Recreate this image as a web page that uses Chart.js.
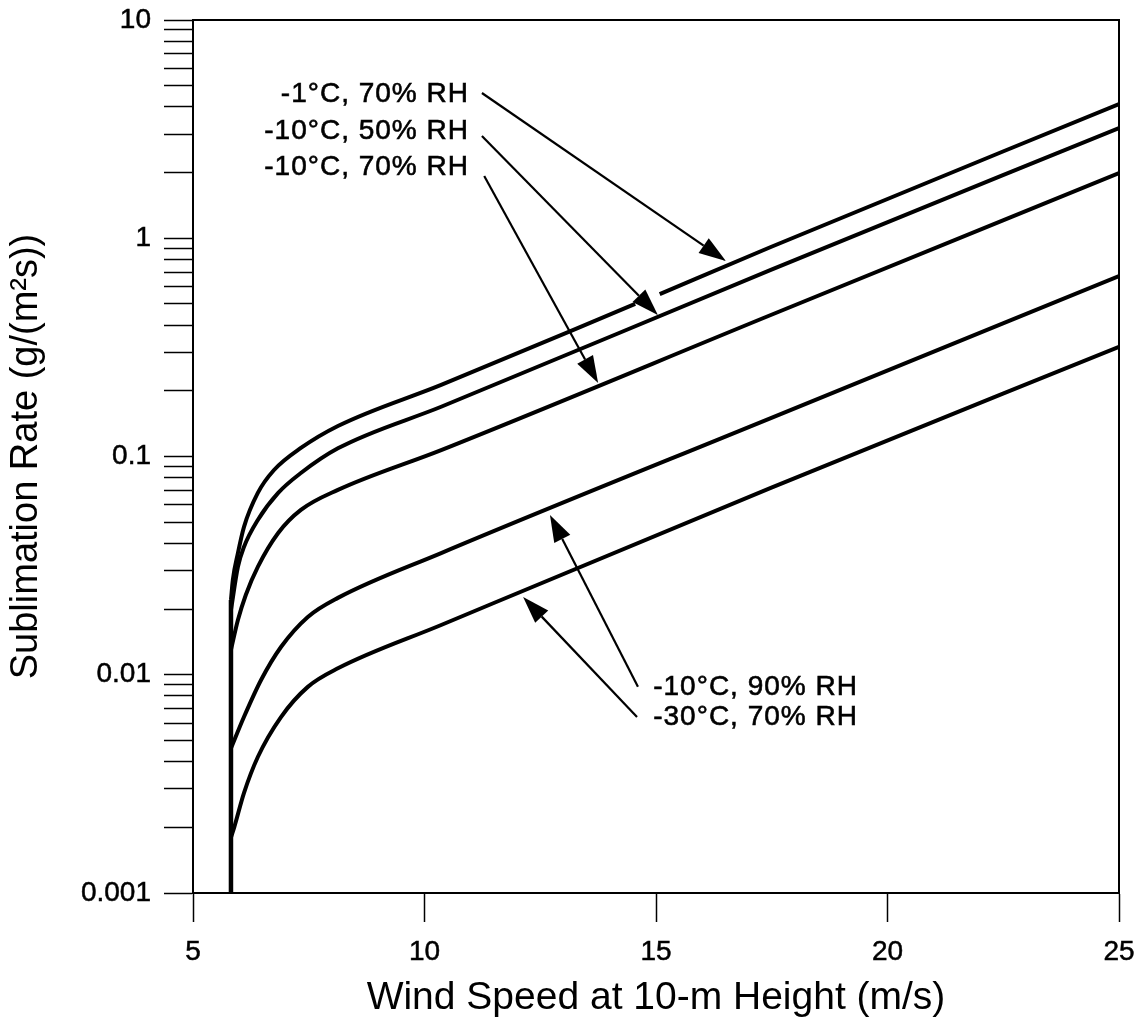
<!DOCTYPE html>
<html>
<head>
<meta charset="utf-8">
<script src="https://cdn.jsdelivr.net/npm/chart.js@4.4.1/dist/chart.umd.min.js"></script>
<style>
  html, body { margin: 0; padding: 0; background: #fff; }
  #wrap { width: 1141px; height: 1024px; }
</style>
</head>
<body>
<div id="wrap"><canvas id="chart"></canvas></div>
<script>
// wind speed at 10 m (m/s) vs sublimation rate (g/(m^2 s))
// every curve leaves the common threshold line at 5.82 m/s
const thresholdSpeed = [5.82, 5.82];
const thresholdRate  = [0.001, 0.022];

const speedA = [5.82, 5.86, 5.97, 6.10, 6.40, 6.75, 7.33, 8.13, 10.36, 14.55, 14.8, 15.08, 17.48, 25];
const rateA  = [0.022, 0.0272, 0.0361, 0.0475, 0.0681, 0.0867, 0.1094, 0.138, 0.213, 0.50, null, 0.555, 0.912, 4.12];

const speedB = [5.82, 5.97, 6.10, 6.40, 6.84, 7.33, 8.13, 10.36, 17.48, 25];
const rateB  = [0.0198, 0.0312, 0.0385, 0.0512, 0.0681, 0.084, 0.109, 0.169, 0.716, 3.20];

const speedC = [5.82, 5.97, 6.14, 6.40, 6.84, 7.33, 8.13, 10.36, 17.48, 25];
const rateC  = [0.013, 0.0178, 0.0232, 0.0312, 0.0446, 0.0569, 0.0703, 0.107, 0.445, 1.99];

const speedD = [5.82, 6.10, 6.47, 6.90, 7.48, 8.13, 10.36, 17.48, 25];
const rateD  = [0.0046, 0.0064, 0.00946, 0.0134, 0.0184, 0.0225, 0.0361, 0.150, 0.671];

const speedE = [5.82, 5.89, 6.10, 6.40, 6.90, 7.48, 8.13, 10.36, 17.48, 25];
const rateE  = [0.0018, 0.0020, 0.00287, 0.0042, 0.0064, 0.0088, 0.0107, 0.0169, 0.0718, 0.318];

const seriesNames = ['-1°C, 70% RH', '-10°C, 50% RH', '-10°C, 70% RH', '-10°C, 90% RH', '-30°C, 70% RH'];

// axis ticks
const xTicks = [5, 10, 15, 20, 25];
const yDecades = [0.001, 0.01, 0.1, 1, 10];
const yMinorSteps = [2, 3, 4, 5, 6, 7, 8, 9];

// call-out labels and their arrows, in data units
const labelX = [10.96, 10.96, 10.96, 14.94, 14.94];
const labelY = [4.58, 3.10, 2.12, 0.00879, 0.0064];
const labelAlign = ['right', 'right', 'right', 'left', 'left'];
const arrowFromX = [11.24, 11.24, 11.29, 14.61, 14.59];
const arrowFromY = [4.63, 2.94, 1.93, 0.0088, 0.0064];
const arrowToX = [16.51, 15.04, 13.75, 12.71, 12.13];
const arrowToY = [0.787, 0.445, 0.217, 0.054, 0.0227];

const FONT = "'Liberation Sans', Arial, Helvetica, sans-serif";

function pts(xs, ys) {
  return xs.map((x, i) => ({ x: x, y: ys[i] }));
}

const allSpeeds = [speedA, speedB, speedC, speedD, speedE];
const allRates = [rateA, rateB, rateC, rateD, rateE];

const datasets = allSpeeds.map((xs, i) => ({
  label: seriesNames[i],
  data: pts(xs, allRates[i]),
  borderColor: '#000',
  borderWidth: 4,
  pointRadius: 0,
  fill: false,
  spanGaps: false,
  cubicInterpolationMode: 'monotone'
}));

datasets.push({
  label: 'threshold',
  data: pts(thresholdSpeed, thresholdRate),
  borderColor: '#000',
  borderWidth: 4.5,
  pointRadius: 0,
  fill: false
});

// frame around the plot (top and right sides)
const framePlugin = {
  id: 'frame',
  afterDatasetsDraw(chart) {
    const { ctx, chartArea: a } = chart;
    ctx.save();
    ctx.strokeStyle = '#000';
    ctx.lineWidth = 2;
    ctx.beginPath();
    ctx.moveTo(a.left, a.top);
    ctx.lineTo(a.right, a.top);
    ctx.lineTo(a.right, a.bottom);
    ctx.stroke();
    ctx.restore();
  }
};

// text labels with arrows pointing at the curves
const calloutPlugin = {
  id: 'callouts',
  afterDraw(chart) {
    const { ctx } = chart;
    const xs = chart.scales.x, ys = chart.scales.y;
    ctx.save();
    ctx.fillStyle = '#000';
    ctx.strokeStyle = '#000';
    ctx.font = '28px ' + FONT;
    ctx.letterSpacing = '1px';
    ctx.textBaseline = 'middle';
    seriesNames.forEach((name, i) => {
      const tx = xs.getPixelForValue(labelX[i]), ty = ys.getPixelForValue(labelY[i]);
      ctx.textAlign = labelAlign[i];
      ctx.lineWidth = 0.6;
      ctx.fillText(name, tx, ty);
      ctx.strokeText(name, tx, ty);

      const x0 = xs.getPixelForValue(arrowFromX[i]), y0 = ys.getPixelForValue(arrowFromY[i]);
      const x1 = xs.getPixelForValue(arrowToX[i]), y1 = ys.getPixelForValue(arrowToY[i]);
      const ang = Math.atan2(y1 - y0, x1 - x0);
      const len = 27, half = 9;
      const bx = x1 - len * Math.cos(ang), by = y1 - len * Math.sin(ang);
      ctx.lineWidth = 2.2;
      ctx.beginPath();
      ctx.moveTo(x0, y0);
      ctx.lineTo(bx, by);
      ctx.stroke();
      ctx.beginPath();
      ctx.moveTo(x1, y1);
      ctx.lineTo(bx + half * Math.sin(ang), by - half * Math.cos(ang));
      ctx.lineTo(bx - half * Math.sin(ang), by + half * Math.cos(ang));
      ctx.closePath();
      ctx.fill();
    });
    ctx.restore();
  }
};

new Chart(document.getElementById('chart'), {
  type: 'line',
  data: { datasets: datasets },
  options: {
    responsive: true,
    maintainAspectRatio: false,
    animation: false,
    layout: { padding: { top: 20, right: 22, left: 0, bottom: 0 } },
    plugins: {
      legend: { display: false },
      tooltip: { enabled: false }
    },
    scales: {
      x: {
        type: 'linear',
        min: 5,
        max: 25,
        afterFit: s => { s.height = 131; s.paddingLeft = 0; s.paddingRight = 0; },
        afterBuildTicks: s => { s.ticks = xTicks.map(v => ({ value: v })); },
        ticks: {
          color: '#000',
          font: { family: FONT, size: 28 },
          textStrokeColor: '#000',
          textStrokeWidth: 0.5,
          padding: 13,
          maxRotation: 0
        },
        grid: { drawOnChartArea: false, drawTicks: true, tickLength: 29, tickWidth: 1.5, tickColor: '#000' },
        border: { display: true, color: '#000', width: 2 },
        title: {
          display: true,
          text: 'Wind Speed at 10-m Height (m/s)',
          color: '#000',
          font: { family: FONT, size: 39 },
          padding: { top: 0, bottom: 2 }
        }
      },
      y: {
        type: 'logarithmic',
        min: 0.001,
        max: 10,
        afterFit: s => { s.width = 193; s.paddingTop = 0; s.paddingBottom = 0; },
        afterBuildTicks: s => {
          const t = [];
          yDecades.forEach(d => {
            t.push({ value: d, major: true });
            if (d < 10) yMinorSteps.forEach(m => t.push({ value: +(d * m).toPrecision(3) }));
          });
          s.ticks = t;
        },
        ticks: {
          color: '#000',
          font: { family: FONT, size: 28 },
          textStrokeColor: '#000',
          textStrokeWidth: 0.5,
          padding: 13,
          autoSkip: false,
          callback: v => (yDecades.includes(v) ? String(v) : '')
        },
        grid: { drawOnChartArea: false, drawTicks: true, tickLength: 29, tickWidth: 1.5, tickColor: '#000' },
        border: { display: true, color: '#000', width: 2 },
        title: {
          display: true,
          text: 'Sublimation Rate (g/(m²s))',
          color: '#000',
          font: { family: FONT, size: 38 },
          padding: { top: 4, bottom: 0 }
        }
      }
    }
  },
  plugins: [framePlugin, calloutPlugin]
});
</script>
</body>
</html>
